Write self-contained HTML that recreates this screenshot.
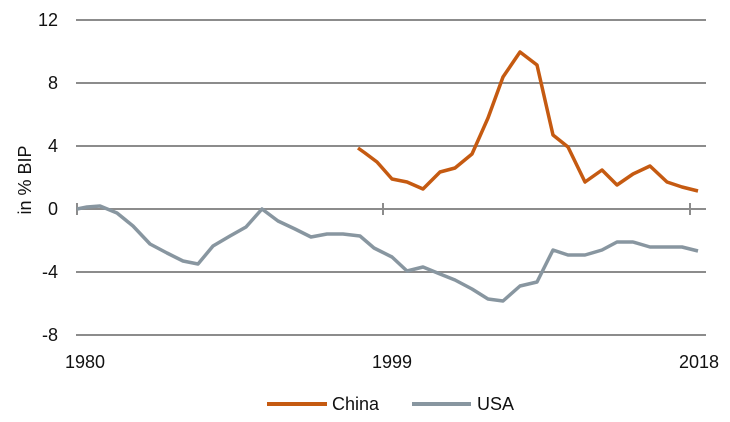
<!DOCTYPE html>
<html><head><style>body{margin:0;background:#fff}svg{display:block}text{font-family:"Liberation Sans",Arial,sans-serif;fill:#111}</style></head><body>
<svg width="730" height="422" viewBox="0 0 730 422">
<g stroke="#8c8c8c" stroke-width="2">
<line x1="76" y1="20" x2="706" y2="20"/><line x1="76" y1="83" x2="706" y2="83"/><line x1="76" y1="146" x2="706" y2="146"/><line x1="76" y1="209" x2="706" y2="209"/><line x1="76" y1="272" x2="706" y2="272"/><line x1="76" y1="335" x2="706" y2="335"/>
<line x1="77" y1="203" x2="77" y2="215"/><line x1="383" y1="203" x2="383" y2="215"/><line x1="690" y1="203" x2="690" y2="215"/>
</g>
<g font-size="18" text-anchor="end">
<text x="58" y="26">12</text><text x="58" y="89">8</text><text x="58" y="152">4</text><text x="58" y="215">0</text><text x="58" y="278">-4</text><text x="58" y="341">-8</text>
</g>
<g font-size="18" text-anchor="middle">
<text x="85" y="368">1980</text><text x="392" y="368">1999</text><text x="699" y="368">2018</text>
</g>
<text font-size="18" transform="translate(31,180) rotate(-90)" text-anchor="middle">in % BIP</text>
<polyline fill="none" stroke="#8896a0" stroke-width="3.5" stroke-linejoin="round" points="77,209 87,207 100,206 117,213 133,226 150,244 167,253 183,261 198,264 213,246 230,236 246,227 262,209 278,221 295,229 311,237 327,234 343,234 360,236 374,248 392,257 407,271 423,267 440,274 455,280 472,289 488,299 503,301 520,286 537,282 553,250 568,255 585,255 602,250 617,242 633,242 650,247 667,247 682,247 698,251"/>
<polyline fill="none" stroke="#c55a11" stroke-width="3.5" stroke-linejoin="round" points="358,148 365,153 377,162 392,179 407,182 423,189 440,172 455,168 472,154 488,118 503,77 520,52 537,65 553,135 568,147 585,182 602,170 617,185 633,174 650,166 667,182 682,187 698,191"/>
<line x1="267" y1="404" x2="327" y2="404" stroke="#c55a11" stroke-width="4"/>
<text x="332" y="410" font-size="18">China</text>
<line x1="412" y1="404" x2="471" y2="404" stroke="#8896a0" stroke-width="4"/>
<text x="477" y="410" font-size="18">USA</text>
</svg>
</body></html>
